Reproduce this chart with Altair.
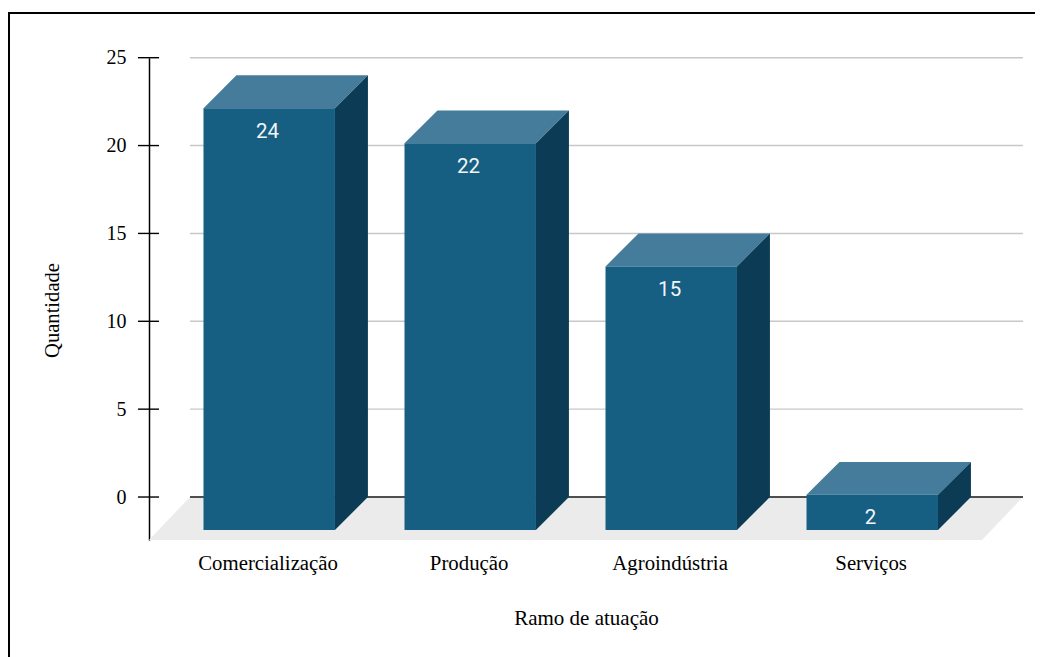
import json
import altair as alt
import pandas as pd

# --- data
categorias = ["Comercialização", "Produção", "Agroindústria", "Serviços"]
valores = [24, 22, 15, 2]
y_ticks = [0, 5, 10, 15, 20, 25]

# --- 3D look, in axis units (x: one unit per category, y: value units)
INSET, BAR_W, DEPTH_X, DEPTH_Y = 0.2711, 0.654, 0.164, 1.875
FLOOR_DX, FLOOR_DY, X_MAX = 0.204, 2.44, 4.348
LABEL_C = 0.59
FRONT, TOP, SIDE, FLOOR, GRID = "#165e82", "#457c9b", "#0c3c55", "#ebebeb", "#c8c8c8"
SERIF, SANS = "Liberation Serif", "Roboto"

x_scale = alt.Scale(domain=[0, X_MAX], range=[141, 1015], nice=False, zero=False)
y_scale = alt.Scale(domain=[-FLOOR_DY, 25], range=[531.9, 49.7], nice=False, zero=False)

front, top, side = [], [], []
for i, (c, v) in enumerate(zip(categorias, valores)):
    x0 = i + INSET
    x1 = x0 + BAR_W
    yt = v - DEPTH_Y
    front.append(dict(cat=c, x=x0, x2=x1, y=yt, y2=-DEPTH_Y, v=v, xc=x0 + LABEL_C - INSET))
    top += [dict(cat=c, x=x0, y=yt, y2=yt),
            dict(cat=c, x=x0 + DEPTH_X, y=v, y2=yt),
            dict(cat=c, x=x1, y=v, y2=yt),
            dict(cat=c, x=x1 + DEPTH_X, y=v, y2=v)]
    side += [dict(cat=c, x=x1, y=yt, y2=-DEPTH_Y),
             dict(cat=c, x=x1 + DEPTH_X, y=v, y2=0)]

floor = pd.DataFrame([
    dict(x=0, y=-FLOOR_DY, y2=-FLOOR_DY),
    dict(x=FLOOR_DX, y=0, y2=-FLOOR_DY),
    dict(x=X_MAX - FLOOR_DX, y=0, y2=-FLOOR_DY),
    dict(x=X_MAX, y=0, y2=0),
])
grid = pd.DataFrame({"y": y_ticks, "x": FLOOR_DX, "x2": X_MAX})
ticks = pd.DataFrame({"y": y_ticks, "x": -0.055, "x2": 0.05})
front = pd.DataFrame(front)

label_expr = json.dumps(categorias, ensure_ascii=False) + f"[round(datum.value-{LABEL_C})]"

x_axis = alt.Axis(
    values=[i + LABEL_C for i in range(len(categorias))],
    labelExpr=label_expr, grid=False, domain=False, ticks=False,
    labelFont=SERIF, labelFontSize=20.8, labelColor="#000", labelPadding=13,
    labelAngle=0, labelOverlap=False, labelFlush=False,
    offset=-117, title="Ramo de atuação", titleFont=SERIF, titleFontSize=21,
    titleFontWeight="normal", titleColor="#000", titleX=578, titleY=84,
    titleBaseline="alphabetic", titleAnchor="start", titleAlign="center")
y_axis = alt.Axis(
    values=y_ticks, grid=False, ticks=False, domain=True, domainColor="#000",
    domainWidth=1.5, labelFont=SERIF, labelFontSize=20, labelColor="#000",
    labelPadding=23, offset=-141, title="Quantidade", titleFont=SERIF,
    titleFontSize=20.6, titleFontWeight="normal", titleColor="#000",
    titleAngle=270, titleX=-91, titleY=302, titleBaseline="alphabetic",
    titleAnchor="start", titleAlign="center")


def X(field="x:Q"):
    return alt.X(field, scale=x_scale, axis=x_axis, title="Ramo de atuação")


def Y():
    return alt.Y("y:Q", scale=y_scale, axis=y_axis, title="Quantidade")


floor_layer = alt.Chart(floor).mark_area(color=FLOOR, orient="vertical").encode(x=X(), y=Y(), y2="y2:Q")
grid_layer = alt.Chart(grid).mark_rule(color=GRID, strokeWidth=1.4).encode(x=X(), x2="x2:Q", y=Y())
base_layer = alt.Chart(grid[grid.y == 0]).mark_rule(color="#222", strokeWidth=1.4).encode(x=X(), x2="x2:Q", y=Y())
tick_layer = alt.Chart(ticks).mark_rule(color="#000", strokeWidth=1.4).encode(x=X(), x2="x2:Q", y=Y())

top_layer = alt.Chart(pd.DataFrame(top)).mark_area(color=TOP, orient="vertical").encode(
    x=X(), y=Y(), y2="y2:Q", detail="cat:N")
side_layer = alt.Chart(pd.DataFrame(side)).mark_area(color=SIDE, orient="vertical").encode(
    x=X(), y=Y(), y2="y2:Q", detail="cat:N")
front_layer = alt.Chart(front).mark_rect(color=FRONT).encode(x=X(), x2="x2:Q", y=Y(), y2="y2:Q")
value_layer = alt.Chart(front).mark_text(color="#f2f5f7", font=SANS, fontSize=20.5, dy=23.5, baseline="middle").encode(
    x=X("xc:Q"), y=Y(), text="v:Q")

frame_h = alt.Chart(pd.DataFrame({"a": [0]})).mark_rule(color="#000", strokeWidth=2).encode(
    x=alt.value(0), x2=alt.value(1027), y=alt.value(5))
frame_v = alt.Chart(pd.DataFrame({"a": [0]})).mark_rule(color="#000", strokeWidth=2).encode(
    x=alt.value(1), y=alt.value(4), y2=alt.value(649))

chart = alt.layer(
    floor_layer, grid_layer, base_layer, tick_layer,
    top_layer, side_layer, front_layer, value_layer, frame_h, frame_v,
).properties(
    width=1027, height=649, padding=0, autosize=alt.AutoSizeParams(type="none"),
    background="#ffffff",
).configure_view(stroke=None)

chart.save("out.html", embed_options={"renderer": "svg", "actions": False})
